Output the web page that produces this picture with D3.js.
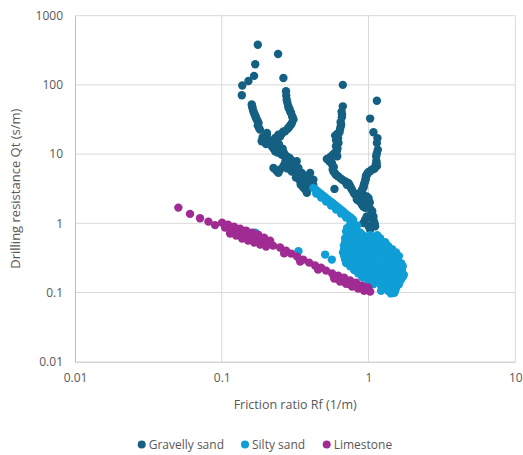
<!DOCTYPE html>
<html>
<head>
<meta charset="utf-8">
<script src="https://cdn.jsdelivr.net/npm/d3@7/dist/d3.min.js"></script>
<style>
  html, body { margin: 0; padding: 0; background: #ffffff; }
  svg { display: block; }
  text { font-family: "Open Sans", "Noto Sans", sans-serif; fill: #595959; }
</style>
</head>
<body>
<svg id="chart" width="523" height="455"></svg>
<script>
// ---- Data (Friction ratio Rf [1/m], Drilling resistance Qt [s/m]) ----
const seriesNames = ["Gravelly sand", "Silty sand", "Limestone"];
const seriesColors = ["#156082", "#0F9ED5", "#A02B93"];
const xTicks = [0.01, 0.1, 1, 10];
const xTickLabels = ["0.01", "0.1", "1", "10"];
const yTicks = [0.01, 0.1, 1, 10, 100, 1000];
const yTickLabels = ["0.01", "0.1", "1", "10", "100", "1000"];

const gravellySand = [
  [0.176,380],[0.242,280],[0.169,199],[0.166,135],[0.152,114],[0.138,98],[0.137,71],
  [0.263,126],[0.274,81],[0.275,70],[0.277,61],[0.28,55],[0.284,49],[0.286,46],[0.29,44],[0.293,41],[0.297,39],
  [0.302,35],[0.305,33],[0.308,31.5],[0.3,28],[0.296,26.5],[0.289,25],[0.285,24],[0.28,23],[0.27,21.3],
  [0.263,21.3],[0.258,20],[0.25,18],[0.243,19],[0.231,17.1],
  [0.160,52],[0.161,49],[0.162,46],[0.164,41.6],[0.166,39],[0.168,37],[0.17,35],[0.171,33.3],[0.173,31.5],
  [0.175,30.5],[0.178,28.2],[0.176,26],[0.179,24],[0.182,22.6],
  [0.19,17.5],[0.195,16.5],[0.203,20.2],[0.203,19],[0.208,16.2],[0.21,15.5],[0.187,15.3],[0.2,14],[0.214,14.5],
  [0.225,14],[0.219,13],[0.225,12],[0.237,12.2],[0.245,14],[0.231,11],[0.24,10.5],[0.25,11.5],[0.26,12],
  [0.265,10.5],[0.256,9.8],[0.277,9.3],[0.27,9],[0.29,8.8],[0.284,8.3],[0.3,8],[0.27,7.6],[0.31,7.5],
  [0.29,7],[0.263,6.7],[0.225,6.3],[0.28,6.2],[0.25,6],[0.235,5.8],[0.243,5.35],[0.324,7.9],[0.31,6.8],
  [0.333,6.3],[0.3,5.6],[0.32,5.8],[0.351,5.35],[0.335,5],[0.4,5.35],[0.38,4.78],[0.32,4.6],[0.36,4.5],
  [0.39,4.4],[0.411,4.28],[0.421,4.28],[0.342,4.05],[0.37,3.9],[0.41,3.8],[0.345,3.6],[0.355,3.6],[0.4,3.6],
  [0.42,3.6],[0.36,3.25],[0.39,3.2],[0.37,3.1],[0.38,2.75],
  [0.668,100],[0.668,49],[0.655,41],[0.66,37.5],[0.658,34],[0.645,29],[0.65,27],[0.647,25.2],[0.64,23],
  [0.634,20.7],[0.61,19.5],[0.592,18.5],[0.62,17],[0.6,16],[0.624,14.5],[0.6,13],[0.615,12],[0.608,11],
  [0.59,10.5],[0.571,9.8],[0.612,9.3],[0.55,9.2],[0.555,8.9],[0.52,8.5],[0.54,7.9],[0.562,7.5],[0.565,7],
  [0.58,6.5],[0.57,6],[0.577,5.6],[0.59,5.3],[0.6,5],[0.62,4.8],[0.64,4.5],[0.66,4.3],[0.68,4.1],[0.7,4],
  [0.729,3.84],[0.711,3.6],[0.74,3.6],[0.75,3.4],[0.76,3.25],[0.769,3.07],[0.79,2.8],[0.8,2.7],[0.811,2.6],
  [0.586,3.14],[0.85,2.35],[0.832,2.2],[0.86,2.1],[0.877,2.45],[0.9,1.86],[0.92,1.75],[0.948,1.67],
  [1.14,59],[1.026,32.6],[1.08,20.7],[1.15,17],[1.14,14.5],[1.157,11.6],[1.14,10.3],[1.127,9.3],[1.13,8],
  [1.135,7.4],[1.12,7],[1.14,6.7],[1.1,6.2],[1.08,6.1],[1.052,5.97],[1.03,5.7],[1.0,5.5],[0.99,5.3],
  [0.973,5.06],[0.96,4.8],[0.96,4.5],[0.955,4.3],[0.948,4.05],[0.94,3.85],[0.93,3.6],[0.925,3.4],
  [0.923,3.25],[0.9,3],[0.877,2.75],[0.92,2.6],[0.973,2.45],[0.95,2.35],[1.0,2.3],[0.973,2.2],[1.02,2.0],
  [0.96,1.9],[1.0,1.8],[1.03,1.6],[1.06,1.5],[1.052,1.41],[1.08,1.26],[0.973,1.26],[1.05,1.2],[1.08,1.13],
  [0.948,1.13],[0.923,1.01],[1.1,1.0],[1.05,0.95],[1.109,0.906],[1.0,0.906],[1.026,0.81]
];

const siltySand = [
  [0.421,3.25],[0.437,3.05],[0.453,2.87],[0.472,2.68],[0.491,2.51],[0.511,2.35],[0.531,2.2],[0.552,2.06],
  [0.574,1.93],[0.597,1.81],[0.621,1.69],[0.646,1.58],[0.671,1.48],[0.698,1.38],[0.726,1.29],[0.755,1.21],[0.785,1.13],
  [0.44,2.69],[0.475,2.35],[0.514,2.06],[0.556,1.8],[0.601,1.58],[0.65,1.38],[0.703,1.21],[0.76,1.06],
  [0.749,0.96],[0.836,0.93],[0.714,0.853],[0.785,0.853],
  [0.703,0.76],[0.785,0.78],[0.876,0.74],
  [0.737,0.675],[0.823,0.675],[0.918,0.675],[1.026,0.675],[1.145,0.675],
  [0.693,0.61],[0.772,0.59],[0.862,0.62],[0.963,0.6],[1.075,0.59],[1.199,0.61],
  [0.693,0.535],[0.772,0.535],[0.862,0.535],[0.963,0.535],[1.075,0.535],[1.199,0.535],[1.297,0.535],
  [0.68,0.48],[0.726,0.47],[0.81,0.49],[0.904,0.47],[1.009,0.48],[1.127,0.46],[1.257,0.49],[1.36,0.47],
  [0.682,0.424],[0.76,0.424],[0.849,0.424],[0.948,0.424],[1.058,0.424],[1.181,0.424],[1.317,0.424],[1.446,0.424],
  [0.67,0.38],[0.714,0.37],[0.797,0.39],[0.89,0.37],[0.993,0.38],[1.109,0.36],[1.237,0.38],[1.38,0.37],[1.54,0.38],
  [0.682,0.336],[0.76,0.336],[0.849,0.336],[0.948,0.336],[1.058,0.336],[1.181,0.336],[1.317,0.336],[1.469,0.336],[1.61,0.336],
  [0.693,0.3],[0.726,0.29],[0.81,0.31],[0.904,0.3],[1.009,0.29],[1.127,0.3],[1.257,0.31],[1.4,0.29],[1.56,0.3],
  [0.703,0.266],[0.785,0.266],[0.876,0.266],[0.978,0.266],[1.092,0.266],[1.218,0.266],[1.36,0.266],[1.518,0.266],[1.668,0.266],
  [0.749,0.24],[0.836,0.23],[0.933,0.24],[1.042,0.235],[1.162,0.24],[1.297,0.23],[1.446,0.24],[1.61,0.235],[1.71,0.24],
  [0.797,0.211],[0.89,0.211],[0.993,0.211],[1.109,0.211],[1.237,0.211],[1.38,0.211],[1.54,0.211],[1.69,0.211],
  [0.849,0.19],[0.948,0.185],[1.058,0.19],[1.181,0.18],[1.317,0.19],[1.469,0.185],[1.63,0.19],[1.74,0.18],
  [0.904,0.167],[1.009,0.167],[1.127,0.167],[1.257,0.167],[1.4,0.167],[1.56,0.167],[1.71,0.167],
  [0.993,0.15],[1.109,0.145],[1.237,0.15],[1.38,0.148],[1.54,0.15],[1.66,0.152],
  [1.075,0.132],[1.199,0.132],[1.339,0.132],[1.49,0.132],[1.61,0.132],
  [1.277,0.118],[1.42,0.12],[1.54,0.116],
  [1.218,0.106],[1.36,0.106],[1.518,0.106],
  [1.42,0.097],[1.5,0.099],
  [0.506,0.353],[0.562,0.299],[0.333,0.394],[0.169,0.734]
];

const limestone = [
  [0.0506,1.686],[0.0608,1.367],[0.0711,1.181],[0.0811,1.058],[0.090,0.942],
  [0.1005,1.023],[0.1104,0.957],[0.1213,0.896],[0.1333,0.838],[0.1464,0.785],[0.1609,0.734],[0.1768,0.687],[0.1942,0.621],[0.2134,0.562],
  [0.1053,0.867],[0.1157,0.811],[0.1271,0.759],[0.1397,0.687],[0.1535,0.642],[0.1687,0.601],[0.1853,0.562],[0.2036,0.509],[0.2236,0.476],
  [0.118,0.85],[0.14,0.76],[0.165,0.66],[0.19,0.6],
  [0.1139,0.71],[0.1252,0.664],[0.1375,0.601],[0.1511,0.562],[0.166,0.526],[0.1824,0.492],[0.2004,0.461],
  [0.2496,0.446],[0.2742,0.403],[0.2967,0.365],[0.326,0.33],[0.358,0.299],[0.394,0.27],[0.432,0.245],[0.475,0.229],[0.514,0.207],
  [0.266,0.37],[0.342,0.28],[0.453,0.214],
  [0.565,0.188],[0.621,0.175],[0.682,0.164],[0.749,0.149],[0.823,0.139],[0.904,0.126],[0.994,0.118],
  [0.611,0.159],[0.671,0.146],[0.737,0.134],[0.81,0.124],[0.89,0.116],[0.978,0.11],
  [0.583,0.159],[0.64,0.144],[0.703,0.134],[0.772,0.122],[0.849,0.114],[0.933,0.106],[1.026,0.103]
];

const seriesData = [gravellySand, siltySand, limestone];

// ---- Layout ----
const svg = d3.select("#chart");
const plot = { left: 75, right: 515.3, top: 15.7, bottom: 361.7 };

const x = d3.scaleLog().domain([0.01, 10]).range([plot.left, plot.right]);
const y = d3.scaleLog().domain([0.01, 1000]).range([plot.bottom, plot.top]);

// gridlines
const grid = svg.append("g");
grid.selectAll("line.vx").data(xTicks.slice(1)).enter().append("line")
  .attr("x1", d => x(d)).attr("x2", d => x(d))
  .attr("y1", plot.top).attr("y2", plot.bottom)
  .attr("stroke", "#d9d9d9").attr("stroke-width", 1);
grid.selectAll("line.hy").data(yTicks.slice(1)).enter().append("line")
  .attr("x1", plot.left).attr("x2", plot.right)
  .attr("y1", d => y(d)).attr("y2", d => y(d))
  .attr("stroke", "#d9d9d9").attr("stroke-width", 1);

// axes
const xAxis = d3.axisBottom(x).tickValues(xTicks).tickFormat((d, i) => xTickLabels[i]).tickSize(0).tickPadding(12);
const yAxis = d3.axisLeft(y).tickValues(yTicks).tickFormat((d, i) => yTickLabels[i]).tickSize(0).tickPadding(12);

const gx = svg.append("g").attr("transform", `translate(0,${plot.bottom})`).call(xAxis);
gx.select(".domain").attr("stroke", "#bfbfbf");
gx.selectAll("text").attr("font-size", 12).attr("fill", "#595959")
  .attr("font-family", "'Open Sans', sans-serif");

const gy = svg.append("g").attr("transform", `translate(${plot.left},0)`).call(yAxis);
gy.select(".domain").attr("stroke", "#bfbfbf");
gy.selectAll("text").attr("font-size", 12).attr("fill", "#595959")
  .attr("font-family", "'Open Sans', sans-serif");

// points
seriesData.forEach((data, i) => {
  svg.append("g").selectAll("circle").data(data).enter().append("circle")
    .attr("cx", d => x(d[0]))
    .attr("cy", d => y(d[1]))
    .attr("r", 4.2)
    .attr("fill", seriesColors[i]);
});

// axis titles
svg.append("text")
  .attr("x", (plot.left + plot.right) / 2).attr("y", 409)
  .attr("text-anchor", "middle").attr("font-size", 12.5)
  .text("Friction ratio Rf (1/m)");
svg.append("text")
  .attr("transform", `translate(20,${(plot.top + plot.bottom) / 2}) rotate(-90)`)
  .attr("text-anchor", "middle").attr("font-size", 13)
  .text("Drilling resistance Qt (s/m)");

// legend
const legendItems = [
  { name: seriesNames[0], color: seriesColors[0], cx: 141.7 },
  { name: seriesNames[1], color: seriesColors[1], cx: 245 },
  { name: seriesNames[2], color: seriesColors[2], cx: 326.7 }
];
const lg = svg.append("g");
legendItems.forEach(it => {
  lg.append("circle").attr("cx", it.cx).attr("cy", 444.5).attr("r", 4).attr("fill", it.color);
  lg.append("text").attr("x", it.cx + 7).attr("y", 449).attr("font-size", 12).text(it.name);
});
</script>
</body>
</html>
